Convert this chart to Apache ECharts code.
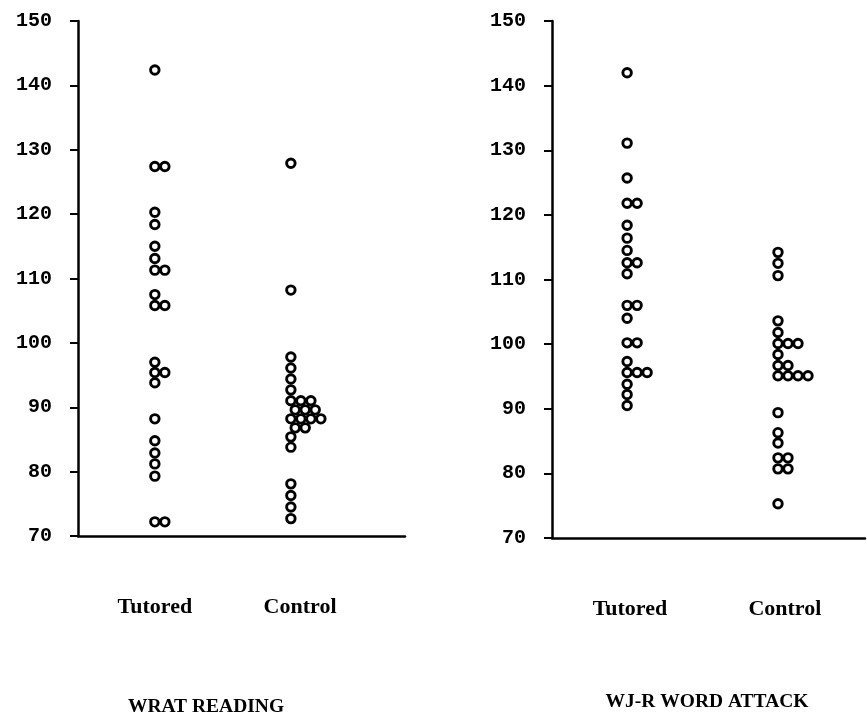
<!DOCTYPE html>
<html>
<head>
<meta charset="utf-8">
<script src="https://cdn.jsdelivr.net/npm/echarts/dist/echarts.min.js"></script>
<style>html,body{margin:0;padding:0;background:#fff}#c{width:867px;height:723px}</style>
</head>
<body>
<div id="c"></div>
<script>
// ---- data ----
const groups = ['Tutored', 'Control'];
const panelTitles = ['WRAT READING', 'WJ-R WORD ATTACK'];
const yTicks = [70, 80, 90, 100, 110, 120, 130, 140, 150];

const wratTutored = [142.4, 127.4, 127.4, 120.3, 118.4, 115.0, 113.1, 111.3, 111.3, 107.5, 105.8, 105.8,
  97.0, 95.4, 95.4, 93.8, 88.2, 84.8, 82.9, 81.2, 79.3, 72.2, 72.2];
const wratControl = [127.9, 108.2, 97.8, 96.1, 94.4, 92.7, 91.0, 91.0, 91.0, 89.6, 89.6, 89.6,
  88.2, 88.2, 88.2, 88.2, 86.8, 86.8, 85.4, 83.8, 78.1, 76.3, 74.5, 72.7];
const wjrTutored = [142.0, 131.1, 125.7, 121.8, 121.8, 118.4, 116.4, 114.5, 112.6, 112.6, 110.9,
  106.0, 106.0, 104.0, 100.2, 100.2, 97.3, 95.6, 95.6, 95.6, 93.8, 92.2, 90.5];
const wjrControl = [114.2, 112.5, 110.6, 103.6, 101.8, 100.1, 100.1, 100.1, 98.4, 96.7, 96.7,
  95.1, 95.1, 95.1, 95.1, 89.4, 86.3, 84.7, 82.4, 82.4, 80.7, 80.7, 75.3];

// ---- layout ----
const Y_MIN = 70, Y_MAX = 150;
const GRID_TOP = 21, GRID_BOTTOM = 187;
const PX_PER_UNIT = (723 - GRID_TOP - GRID_BOTTOM) / (Y_MAX - Y_MIN);
const DOT_GAP = 10;
const groupPos = [[0.235, 0.651], [0.24, 0.722]];
const labelPos = [[0.235, 0.679], [0.249, 0.744]];

// one-sided beeswarm: each dot moves right until it doesn't overlap earlier ones
function swarm(values) {
  const placed = [];
  return values.map(v => {
    const y = v * PX_PER_UNIT;
    const cands = [0];
    placed.forEach(p => {
      const dy = Math.abs(p.y - y);
      if (dy < DOT_GAP) cands.push(p.x + Math.sqrt(DOT_GAP * DOT_GAP - dy * dy));
    });
    cands.sort((a, b) => a - b);
    const x = cands.find(c => placed.every(p => Math.hypot(p.x - c, p.y - y) >= DOT_GAP - 1e-6));
    placed.push({ x, y });
    return x;
  });
}

function seriesFor(values, gi, panel) {
  const offs = swarm(values);
  return {
    type: 'scatter',
    xAxisIndex: panel, yAxisIndex: panel,
    name: groups[gi],
    symbol: 'circle',
    symbolSize: 8.5,
    itemStyle: { color: '#fff', borderColor: '#000', borderWidth: 2.9, opacity: 1 },
    emphasis: { disabled: true },
    data: values.map((v, i) => ({ value: [groupPos[panel][gi], v], symbolOffset: [offs[i], 0] }))
  };
}

const grids = [
  { left: 78, right: 462, top: GRID_TOP, bottom: GRID_BOTTOM },
  { left: 552, right: 2, top: GRID_TOP, bottom: 185 }
];

function xAxis(panel) {
  return {
    type: 'value', gridIndex: panel, min: 0, max: 1,
    axisLine: { show: true, lineStyle: { color: '#000', width: 2.5 } },
    axisTick: { show: false },
    splitLine: { show: false },
    axisLabel: {
      customValues: labelPos[panel],
      margin: 60,
      formatter: v => {
        const d = labelPos[panel].map(p => Math.abs(p - v));
        return groups[d[0] < d[1] ? 0 : 1];
      },
      fontFamily: 'Liberation Serif', fontWeight: 'bold', fontSize: 22, color: '#000'
    }
  };
}
function yAxis(panel) {
  return {
    type: 'value', gridIndex: panel, min: Y_MIN, max: Y_MAX, interval: 10,
    axisLine: { show: true, lineStyle: { color: '#000', width: 2.5 } },
    axisTick: { show: true, length: 8, lineStyle: { color: '#000', width: 2 } },
    splitLine: { show: false },
    axisLabel: {
      margin: 26,
      formatter: v => (yTicks.includes(v) ? String(v) : ''),
      fontFamily: 'Liberation Mono', fontWeight: 'bold', fontSize: 20, color: '#000'
    }
  };
}

const chart = echarts.init(document.getElementById('c'), null, { renderer: 'canvas' });
chart.setOption({
  backgroundColor: '#fff',
  animation: false,
  title: [
    { text: panelTitles[0], left: 201, top: 692, textAlign: 'center',
      textStyle: { fontFamily: 'Liberation Serif', fontWeight: 'bold', fontSize: 19.5, color: '#000' } },
    { text: panelTitles[1], left: 702, top: 687, textAlign: 'center',
      textStyle: { fontFamily: 'Liberation Serif', fontWeight: 'bold', fontSize: 19.5, color: '#000' } }
  ],
  grid: grids,
  xAxis: [xAxis(0), xAxis(1)],
  yAxis: [yAxis(0), yAxis(1)],
  series: [
    seriesFor(wratTutored, 0, 0),
    seriesFor(wratControl, 1, 0),
    seriesFor(wjrTutored, 0, 1),
    seriesFor(wjrControl, 1, 1)
  ]
});
</script>
</body>
</html>
